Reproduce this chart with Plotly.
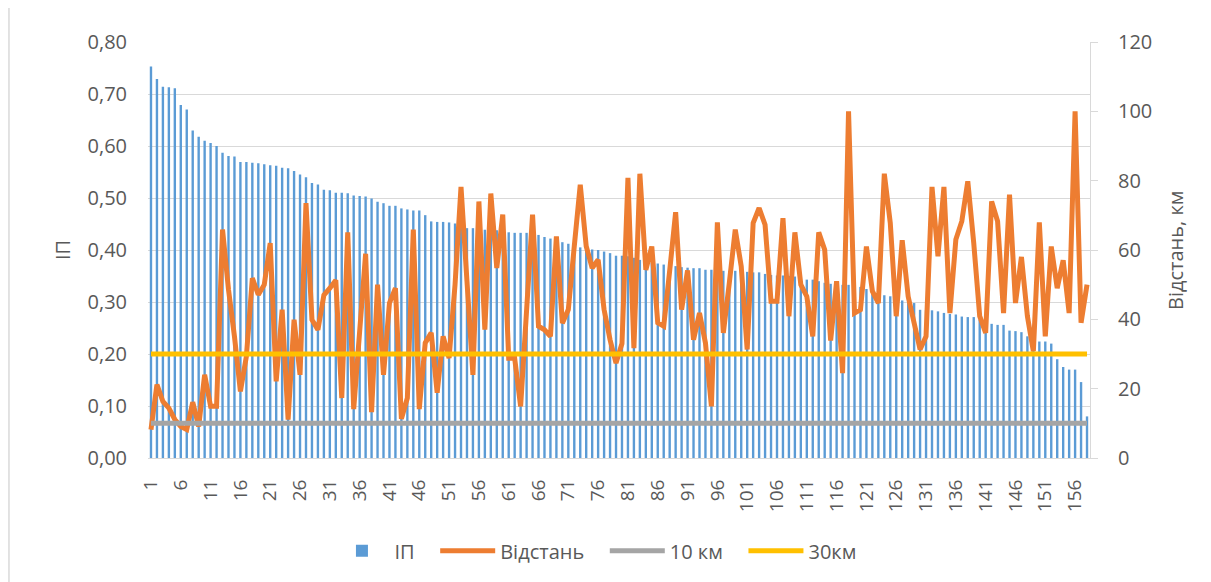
import plotly.graph_objects as go

categories = list(range(1, 159))

ip_values = [
    0.753, 0.729, 0.714, 0.713, 0.711, 0.679, 0.670, 0.630, 0.618, 0.610,
    0.606, 0.600, 0.587, 0.581, 0.580, 0.569, 0.569, 0.568, 0.567, 0.565,
    0.563, 0.562, 0.558, 0.557, 0.552, 0.545, 0.540,
    0.529, 0.526, 0.516, 0.515, 0.510, 0.510, 0.509, 0.505, 0.504, 0.503,
    0.499, 0.493, 0.490, 0.485, 0.485, 0.480, 0.478, 0.476, 0.476, 0.467,
    0.455, 0.454, 0.454, 0.453, 0.451, 0.449,
    0.442, 0.442, 0.439, 0.439, 0.438, 0.438, 0.437, 0.434, 0.433, 0.433,
    0.433, 0.431, 0.429, 0.425, 0.422, 0.421, 0.415, 0.412, 0.409, 0.405,
    0.401, 0.401, 0.400, 0.397, 0.394, 0.389, 0.389,
    0.388, 0.385, 0.381, 0.377, 0.375, 0.374, 0.372, 0.370, 0.369, 0.367,
    0.366, 0.365, 0.365, 0.362, 0.362, 0.361, 0.360, 0.360, 0.360, 0.359,
    0.358, 0.357, 0.357, 0.354, 0.352, 0.351, 0.351,
    0.350, 0.349, 0.344, 0.343, 0.343, 0.340, 0.337, 0.335, 0.335, 0.333,
    0.333, 0.330, 0.329, 0.325, 0.321, 0.317, 0.313, 0.311, 0.308, 0.303,
    0.302, 0.298, 0.285, 0.284, 0.284,
    0.282, 0.279, 0.277, 0.276, 0.272, 0.271, 0.271, 0.266, 0.262, 0.258,
    0.256, 0.256, 0.245, 0.244, 0.242, 0.234, 0.228, 0.224, 0.224, 0.220,
    0.190, 0.175, 0.170, 0.170, 0.146, 0.080,
]

distance_km = [
    8.2, 21.2, 16.3, 14.4, 11.1, 9.1, 8.2, 16.1, 9.1, 24.0,
    14.9, 14.9, 65.9, 48.6, 35.1, 19.2, 29.3, 51.9, 47.1, 50.0,
    62.0, 22.1, 42.8, 11.1, 39.9, 24.0, 73.5,
    39.9, 37.0, 47.0, 49.0, 51.3, 17.3, 65.1, 14.1, 38.0, 58.9,
    13.2, 50.0, 24.0, 44.7, 49.0, 11.3, 17.3, 65.9, 14.1, 33.2,
    36.1, 18.8, 35.1, 28.8, 50.0, 78.2,
    51.0, 24.0, 74.0, 37.0, 76.3, 54.8, 70.2, 28.8, 28.8, 14.9,
    42.6, 70.2, 38.0, 37.0, 35.1, 63.9, 38.9, 42.8, 61.1, 78.8,
    61.1, 54.8, 57.2, 42.8, 34.1, 27.4, 33.0,
    80.8, 31.7, 82.0, 54.3, 61.0, 39.0, 38.0, 54.0, 70.9, 42.8,
    54.1, 34.1, 41.8, 33.2, 14.9, 68.0, 36.1, 50.5, 65.9, 55.3,
    31.3, 67.8, 72.1, 67.3, 45.2, 45.2, 69.2,
    40.9, 65.1, 50.0, 46.6, 35.1, 65.1, 60.1, 33.9, 51.0, 24.5,
    100.0, 41.8, 42.8, 61.0, 48.1, 44.7, 82.0, 67.8, 40.9, 62.8,
    46.6, 39.0, 31.3, 35.1, 78.2, 58.2, 78.2,
    41.8, 63.0, 68.3, 79.8, 62.0, 40.9, 36.1, 74.0, 68.3, 41.8,
    76.0, 44.7, 58.0, 40.9, 30.8, 68.0, 35.1, 61.0, 49.0, 57.0,
    41.8, 100.0, 39.0, 50.0,
]

ref_10km = [10] * len(categories)
ref_30km = [30] * len(categories)

x_tickvals = list(range(1, 159, 5))
y_tickvals = [0, 0.1, 0.2, 0.3, 0.4, 0.5, 0.6, 0.7, 0.8]
y_ticktext = ["0,00", "0,10", "0,20", "0,30", "0,40", "0,50", "0,60", "0,70", "0,80"]
y2_tickvals = [0, 20, 40, 60, 80, 100, 120]

FONT = "Open Sans, DejaVu Sans, sans-serif"
GRAY_TXT = "#595959"
GRID = "#D9D9D9"
PAD = "\u00a0\u00a0\u00a0"  # extra spacing between legend entries

fig = go.Figure()
fig.add_trace(go.Bar(x=categories, y=ip_values, name="ІП" + PAD,
                     marker=dict(color="#5B9BD5", line=dict(width=0))))
fig.add_trace(go.Scatter(x=categories, y=distance_km, name="Відстань" + PAD, yaxis="y2",
                         mode="lines", line=dict(color="#ED7D31", width=5)))
fig.add_trace(go.Scatter(x=categories, y=ref_10km, name="10 км" + PAD, yaxis="y2",
                         mode="lines", line=dict(color="#A5A5A5", width=5)))
fig.add_trace(go.Scatter(x=categories, y=ref_30km, name="30км", yaxis="y2",
                         mode="lines", line=dict(color="#FFC000", width=5)))

fig.update_layout(
    width=1203, height=574,
    margin=dict(l=140, r=121, t=34, b=124),
    paper_bgcolor="white", plot_bgcolor="white",
    font=dict(family=FONT, size=20, color=GRAY_TXT),
    bargap=0.6,
    showlegend=True,
    legend=dict(orientation="h", x=0.475, xanchor="center", y=-0.223, yanchor="middle",
                font=dict(size=20, color=GRAY_TXT), itemwidth=55,
                bgcolor="rgba(0,0,0,0)"),
    xaxis=dict(range=[0.5, 158.5], tickmode="array", tickvals=x_tickvals,
               tickangle=-90, showgrid=False, zeroline=False,
               showline=True, linecolor=GRID, linewidth=1,
               ticks="", ticklabelstandoff=13,
               tickfont=dict(size=19, color=GRAY_TXT)),
    yaxis=dict(range=[0, 0.8], tickmode="array", tickvals=y_tickvals, ticktext=y_ticktext,
               showgrid=True, gridcolor=GRID, gridwidth=1, zeroline=False,
               showline=False, ticks="", ticklabelstandoff=20,
               tickfont=dict(size=20, color=GRAY_TXT)),
    yaxis2=dict(range=[0, 120], overlaying="y", side="right", tickmode="array",
                tickvals=y2_tickvals, showgrid=False, zeroline=False,
                showline=True, linecolor=GRID, linewidth=1,
                ticks="outside", ticklen=7, tickcolor=GRID, ticklabelstandoff=16,
                tickfont=dict(size=20, color=GRAY_TXT)),
    annotations=[
        dict(text="ІП", xref="paper", yref="paper", x=-0.0913, y=0.5,
             xanchor="center", yanchor="middle", textangle=-90, showarrow=False,
             font=dict(size=20, color=GRAY_TXT)),
        dict(text="Відстань, км", xref="paper", yref="paper", x=1.0902, y=0.5,
             xanchor="center", yanchor="middle", textangle=-90, showarrow=False,
             font=dict(size=20, color=GRAY_TXT)),
    ],
    shapes=[dict(type="line", xref="paper", yref="paper",
                 x0=-0.1476, x1=-0.1476, y0=-0.4, y1=1.2,
                 line=dict(color=GRID, width=1.5))],
)

fig.write_html("out.html")
